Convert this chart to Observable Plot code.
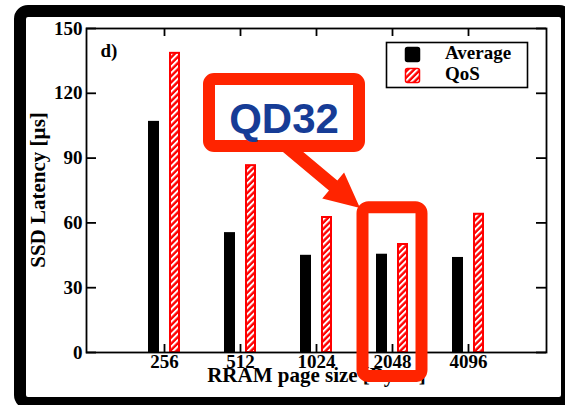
<!DOCTYPE html>
<html>
<head>
<meta charset="utf-8">
<script src="https://cdn.jsdelivr.net/npm/d3@7"></script>
<script src="https://cdn.jsdelivr.net/npm/@observablehq/plot@0.6"></script>
<style>
  html, body { margin: 0; padding: 0; background: white; overflow: hidden; }
</style>
</head>
<body>
<div id="chart"></div>
<script>
const categories = ["256", "512", "1024", "2048", "4096"];
const averageValues = [107, 55.5, 45, 45.5, 44];
const qosValues = [138.5, 86.5, 62.5, 50, 64];
const yTicks = [0, 30, 60, 90, 120, 150];
const seriesNames = ["Average", "QoS"];
const panelLabel = "d)";
const xLabel = "RRAM page size [Bytes]";
const yLabel = "SSD Latency [µs]";
const calloutText = "QD32";
const highlighted = "2048";

const avgData = categories.map((c, i) => ({cat: c, v: averageValues[i]}));
const qosData = categories.map((c, i) => ({cat: c, v: qosValues[i]}));

const W = 565, H = 405;
const mL = 86, mR = 19, mT = 28, mB = 53;
const innerW = W - mL - mR, innerH = H - mT - mB;
const serif = "Liberation Serif";
const annotRed = "#ff2400";

const plot = Plot.plot({
  width: W,
  height: H,
  marginLeft: mL,
  marginRight: mR,
  marginTop: mT,
  marginBottom: mB,
  style: `font-family: '${serif}'; font-weight: bold; font-size: 19px; background: white; color: black;`,
  x: {type: "band", domain: categories, paddingInner: 0, paddingOuter: 0.5},
  y: {domain: [0, 150]},
  marks: [
    Plot.barY(avgData, {x: "cat", y: "v", fill: "black", insetLeft: 22, insetRight: 43}),
    Plot.barY(qosData, {x: "cat", y: "v", fill: "url(#hatch)", stroke: "red", strokeWidth: 2, insetLeft: 44, insetRight: 23}),
    Plot.frame({stroke: "black", strokeWidth: 1.8}),
    Plot.ruleY(yTicks, {y: d => d, insetRight: innerW - 10, stroke: "black", strokeWidth: 1.8}),
    Plot.ruleY(yTicks, {y: d => d, insetLeft: innerW - 10, stroke: "black", strokeWidth: 1.8}),
    Plot.ruleX(categories, {x: d => d, insetBottom: innerH - 8, stroke: "black", strokeWidth: 1.8}),
    Plot.ruleX(categories, {x: d => d, insetTop: innerH - 8, stroke: "black", strokeWidth: 1.8}),
    Plot.axisY({ticks: yTicks, tickSize: 0, tickPadding: 4, label: null, fontSize: 19, fontWeight: "bold"}),
    Plot.axisX({tickSize: 0, tickPadding: 2, label: null, fontSize: 19, fontWeight: "bold"}),
    Plot.text([xLabel], {frameAnchor: "bottom", textAnchor: "middle", dy: 29.5, fontSize: 21, fontWeight: "bold"}),
    Plot.text([panelLabel], {frameAnchor: "top-left", dx: 14, dy: 15, textAnchor: "start", lineAnchor: "top", fontSize: 19, fontWeight: "bold"})
  ]
});

const svg = d3.select(plot);
const defs = svg.insert("defs", ":first-child");
const pat = defs.append("pattern")
  .attr("id", "hatch")
  .attr("patternUnits", "userSpaceOnUse")
  .attr("width", 4.4).attr("height", 4.4)
  .attr("patternTransform", "rotate(45)");
pat.append("rect").attr("width", 4.4).attr("height", 4.4).attr("fill", "red");
pat.append("rect").attr("width", 2).attr("height", 4.4).attr("fill", "white");

const xs = plot.scale("x"), ys = plot.scale("y");

// y axis label
svg.append("text")
  .attr("transform", `translate(45,${(ys.apply(0) + ys.apply(150)) / 2}) rotate(-90)`)
  .attr("text-anchor", "middle")
  .attr("font-family", serif).attr("font-weight", "bold").attr("font-size", 21)
  .attr("fill", "black").text(yLabel);

// legend
const lg = svg.append("g").attr("text-anchor", "start");
lg.append("rect").attr("x", 386.5).attr("y", 42.5).attr("width", 141).attr("height", 45)
  .attr("fill", "white").attr("stroke", "black").attr("stroke-width", 1.6);
const legendFills = ["black", "url(#hatch)"];
const legendStrokes = ["black", "red"];
seriesNames.forEach((name, i) => {
  lg.append("rect").attr("x", 405.5).attr("y", 47.5 + i * 21).attr("width", 14).attr("height", 14)
    .attr("rx", 2).attr("fill", legendFills[i]).attr("stroke", legendStrokes[i]).attr("stroke-width", 1.5);
  lg.append("text").attr("x", 445).attr("y", 59 + i * 21).attr("text-anchor", "start")
    .attr("font-family", serif).attr("font-weight", "bold").attr("font-size", 19)
    .attr("fill", "black").text(name);
});

// annotation: arrow
const T = [360, 208], S = [280, 141];
const len = Math.hypot(T[0] - S[0], T[1] - S[1]);
const u = [(T[0] - S[0]) / len, (T[1] - S[1]) / len];
const n = [-u[1], u[0]];
const headLen = 35, headHalf = 17, shaftHalf = 6.5;
const B = [T[0] - headLen * u[0], T[1] - headLen * u[1]];
const P = (p, k) => [p[0] + k * n[0], p[1] + k * n[1]];
const pts = [P(S, shaftHalf), P(B, shaftHalf), P(B, headHalf), T, P(B, -headHalf), P(B, -shaftHalf), P(S, -shaftHalf)];
svg.append("polygon").attr("points", pts.map(p => p.join(",")).join(" ")).attr("fill", annotRed);

// callout box
svg.append("rect").attr("x", 209).attr("y", 79).attr("width", 150).attr("height", 67).attr("rx", 5)
  .attr("fill", "white").attr("stroke", annotRed).attr("stroke-width", 12);
svg.append("text").attr("x", 284).attr("y", 133).attr("text-anchor", "middle")
  .attr("font-family", "Liberation Sans").attr("font-weight", "bold").attr("font-size", 42)
  .attr("fill", "#163c96").text(calloutText);

// highlight box around the highlighted category
const cx = xs.apply(highlighted) + xs.bandwidth / 2;
svg.append("rect").attr("x", cx - 29.5).attr("y", ys.apply(67)).attr("width", 59)
  .attr("height", ys.apply(0) + 24 - ys.apply(67)).attr("rx", 6)
  .attr("fill", "none").attr("stroke", annotRed).attr("stroke-width", 12);

// outer black frame
svg.append("rect").attr("x", 20).attr("y", 11).attr("width", 547).attr("height", 392).attr("rx", 8)
  .attr("fill", "none").attr("stroke", "black").attr("stroke-width", 12);

document.getElementById("chart").appendChild(plot);
</script>
</body>
</html>
